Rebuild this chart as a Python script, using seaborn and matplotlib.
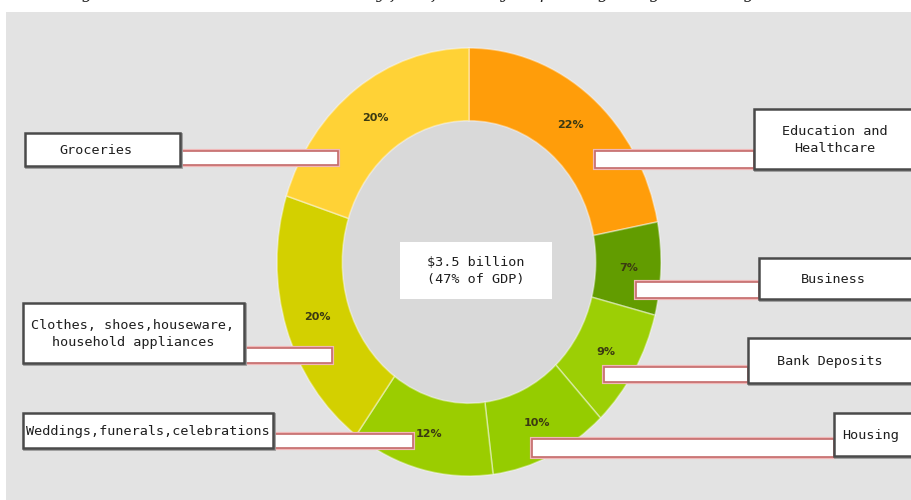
import matplotlib
matplotlib.use("Agg")
import matplotlib.pyplot as plt
from matplotlib.patches import Rectangle, Circle
import seaborn as sns

# Spending categories, clockwise from 12 o'clock
categories = [
    "Education and\nHealthcare",
    "Business",
    "Bank Deposits",
    "Housing",
    "Weddings,funerals,celebrations",
    "Clothes, shoes,houseware,\nhousehold appliances",
    "Groceries",
]
shares = [22, 7, 9, 10, 12, 20, 20]
slice_colors = ["#ff9d0a", "#629c00", "#9ccf05", "#95cc00", "#9bcd00", "#d3d000", "#ffd236"]
center_text = "$3.5 billion\n(47% of GDP)"
caption = "Figure 3: Estimated household money flow from major spending categories and goods"

sns.set_theme(style="white")
plt.rcParams["font.family"] = ["DejaVu Sans Mono", "DejaVu Sans"]

W, H = 912, 500
fig = plt.figure(figsize=(W / 100, H / 100), dpi=100, facecolor="white")

# background layer in pixel units
bg = fig.add_axes([0, 0, 1, 1], zorder=0)
bg.set_xlim(0, W)
bg.set_ylim(H, 0)
bg.axis("off")
bg.add_patch(Rectangle((6, 12), W, H, facecolor="#e3e3e3", edgecolor="none"))
bg.text(65, -2, caption, family="DejaVu Serif", style="italic", fontsize=12,
        ha="left", va="baseline", color="#222222", clip_on=False)

# donut (slightly taller than wide)
cx, cy, rx, ry = 469, 262, 192, 214
pie_ax = fig.add_axes([(cx - rx) / W, (H - cy - ry) / H, 2 * rx / W, 2 * ry / H], zorder=1)
pie_ax.patch.set_alpha(0)
pie_ax.add_patch(Circle((0, 0), 0.66, facecolor="#d9d9d9", edgecolor="none", zorder=0))
wedges, _, pct_texts = pie_ax.pie(
    shares,
    colors=sns.color_palette(slice_colors),
    startangle=90,
    counterclock=False,
    radius=1,
    autopct=lambda p: f"{p:.0f}%",
    pctdistance=0.83,
    wedgeprops=dict(width=0.34, edgecolor=(1, 1, 1, 0.4), linewidth=1.2),
    textprops=dict(fontsize=8, fontweight="bold", color="#3b3a12", family="DejaVu Sans"),
)
pie_ax.set_aspect("auto")
pie_ax.set_xlim(-1, 1)
pie_ax.set_ylim(-1, 1)
pie_ax.axis("off")

# label boxes and connector bars, in pixel units
ov = fig.add_axes([0, 0, 1, 1], zorder=2)
ov.set_xlim(0, W)
ov.set_ylim(H, 0)
ov.axis("off")
ov.patch.set_alpha(0)

label_boxes = {
    "Education and\nHealthcare": (754, 109, 916, 169),
    "Business": (759, 258, 916, 299),
    "Bank Deposits": (748, 338, 916, 383),
    "Housing": (834, 413, 916, 456),
    "Weddings,funerals,celebrations": (23, 413, 273, 448),
    "Clothes, shoes,houseware,\nhousehold appliances": (23, 303, 244, 363),
    "Groceries": (25, 133, 180, 166),
}
connectors = {
    "Education and\nHealthcare": (595, 151, 754, 168),
    "Business": (636, 282, 759, 298),
    "Bank Deposits": (604, 367, 748, 382),
    "Housing": (532, 439, 834, 457),
    "Weddings,funerals,celebrations": (273, 434, 413, 448),
    "Clothes, shoes,houseware,\nhousehold appliances": (244, 348, 332, 363),
    "Groceries": (180, 151, 338, 165),
}
text_x = {
    "Education and\nHealthcare": 835,
    "Business": 833,
    "Bank Deposits": 830,
    "Housing": 871,
    "Weddings,funerals,celebrations": 148,
    "Clothes, shoes,houseware,\nhousehold appliances": 133,
    "Groceries": 96,
}

for name in categories:
    x0, y0, x1, y1 = connectors[name]
    ov.add_patch(Rectangle((x0, y0), x1 - x0, y1 - y0, facecolor="white",
                           edgecolor="#f0b8b8", linewidth=3.0, zorder=3))
    ov.add_patch(Rectangle((x0, y0), x1 - x0, y1 - y0, facecolor="white",
                           edgecolor="#c46a6a", linewidth=1.2, zorder=3))

for name in categories:
    x0, y0, x1, y1 = label_boxes[name]
    ov.add_patch(Rectangle((x0 + 1, y0 + 1), x1 - x0, y1 - y0, facecolor="none",
                           edgecolor="#9a9a9a", linewidth=2.0, zorder=4))
    ov.add_patch(Rectangle((x0, y0), x1 - x0, y1 - y0, facecolor="white",
                           edgecolor="#4a4a4a", linewidth=1.8, zorder=5))
    ov.text(text_x[name], (y0 + y1) / 2 + 1, name, ha="center", va="center",
            fontsize=9.7, color="#1e1e1e", linespacing=1.4, zorder=6)

# centre caption
ov.add_patch(Rectangle((400, 242), 152, 57, facecolor="white", edgecolor="none", zorder=3))
ov.text(476, 271, center_text, ha="center", va="center", fontsize=9.7,
        color="#1e1e1e", linespacing=1.4, zorder=6)

fig.savefig("out.png", dpi=100, facecolor="white")
